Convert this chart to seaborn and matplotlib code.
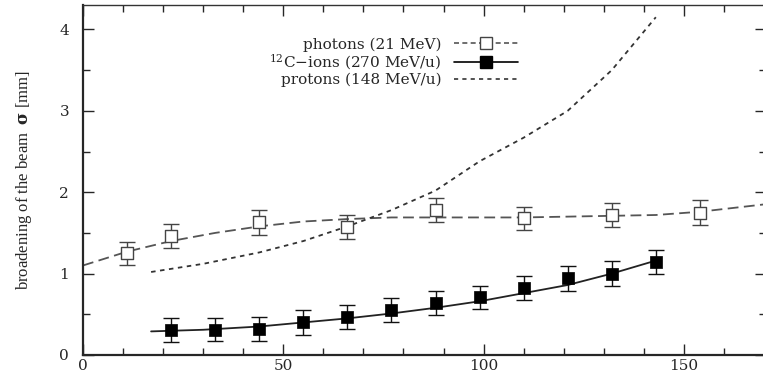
import numpy as np
import pandas as pd
import matplotlib
matplotlib.use("Agg")
import matplotlib.pyplot as plt
import seaborn as sns
from matplotlib.ticker import MultipleLocator
from matplotlib.lines import Line2D

# ---- data ----
photon_x = [11, 22, 44, 66, 88, 110, 132, 154]
photon_y = [1.25, 1.46, 1.63, 1.57, 1.78, 1.68, 1.72, 1.75]
photon_err = [0.14, 0.15, 0.15, 0.15, 0.15, 0.14, 0.15, 0.15]

photon_fit_x = [0, 11, 22, 33, 44, 55, 66, 77, 88, 99, 110, 121, 132, 143, 154, 170]
photon_fit_y = [1.10, 1.27, 1.40, 1.50, 1.58, 1.64, 1.67, 1.69, 1.69, 1.69, 1.69, 1.70, 1.71, 1.72, 1.76, 1.85]

carbon_x = [22, 33, 44, 55, 66, 77, 88, 99, 110, 121, 132, 143]
carbon_y = [0.31, 0.31, 0.32, 0.40, 0.47, 0.55, 0.64, 0.71, 0.82, 0.94, 1.00, 1.14]
carbon_err = [0.15, 0.14, 0.15, 0.15, 0.15, 0.15, 0.15, 0.14, 0.15, 0.15, 0.15, 0.15]

carbon_fit_x = [17, 30, 44, 55, 66, 77, 88, 99, 110, 121, 132, 143]
carbon_fit_y = [0.29, 0.31, 0.35, 0.40, 0.45, 0.51, 0.58, 0.66, 0.76, 0.86, 1.00, 1.16]

proton_x = [17, 30, 44, 55, 66, 77, 88, 99, 110, 121, 132, 143]
proton_y = [1.02, 1.12, 1.26, 1.40, 1.58, 1.78, 2.02, 2.38, 2.67, 3.00, 3.50, 4.15]

labels = ["photons (21 MeV)", "$^{12}$C\u2212ions (270 MeV/u)", "protons (148 MeV/u)"]
xticks = [0, 50, 100, 150]
yticks = [0, 1, 2, 3, 4]

# ---- plotting ----
sns.set_style("ticks")
plt.rcParams["font.family"] = ["DejaVu Serif"]
plt.rcParams["mathtext.fontset"] = "dejavuserif"

fig = plt.figure(figsize=(7.63, 3.78), dpi=100)
ax = fig.add_axes([83 / 763, 1 - 355 / 378, (766 - 83) / 763, (355 - 5) / 378])

pfit = pd.DataFrame({"x": photon_fit_x, "y": photon_fit_y})
cfit = pd.DataFrame({"x": carbon_fit_x, "y": carbon_fit_y})
prot = pd.DataFrame({"x": proton_x, "y": proton_y})

sns.lineplot(data=pfit, x="x", y="y", ax=ax, color="#555555", lw=1.3,
             estimator=None).lines[-1].set_dashes([6, 3])
sns.lineplot(data=cfit, x="x", y="y", ax=ax, color="#222222", lw=1.3, estimator=None)
sns.lineplot(data=prot, x="x", y="y", ax=ax, color="#333333", lw=1.3,
             estimator=None).lines[-1].set_dashes([2.5, 2.5])

ax.errorbar(photon_x, photon_y, yerr=photon_err, fmt="none", ecolor="#444444",
            elinewidth=1.0, capsize=6, capthick=1.0)
sns.scatterplot(x=photon_x, y=photon_y, ax=ax, marker="s", s=80,
                facecolor="white", edgecolor="#444444", linewidth=1.0, zorder=5)

ax.errorbar(carbon_x, carbon_y, yerr=carbon_err, fmt="none", ecolor="#111111",
            elinewidth=1.0, capsize=6, capthick=1.0)
sns.scatterplot(x=carbon_x, y=carbon_y, ax=ax, marker="s", s=80,
                color="black", edgecolor="black", linewidth=0.5, zorder=5)

ax.set_xlim(0, 170.5)
ax.set_ylim(0, 4.3)
ax.set_xticks(xticks)
ax.set_yticks(yticks)
ax.xaxis.set_minor_locator(MultipleLocator(10))
ax.yaxis.set_minor_locator(MultipleLocator(0.5))
ax.tick_params(which="both", direction="in", top=True, right=True, labelsize=11)
ax.tick_params(axis="x", pad=3)
ax.tick_params(axis="y", pad=10)
ax.tick_params(which="major", length=8, width=1.0)
ax.tick_params(which="minor", length=5, width=1.0)
for side in ["left", "bottom"]:
    ax.spines[side].set_linewidth(1.6)
for side in ["top", "right"]:
    ax.spines[side].set_linewidth(1.0)
    ax.spines[side].set_color("#333333")

ax.set_xlabel("")
ax.set_ylabel("broadening of the beam  $\\mathbf{\\sigma}$ [mm]",
              family="Liberation Serif", fontsize=12, labelpad=18)

handles = [
    Line2D([], [], color="#555555", lw=1.2, dashes=[3, 2], marker="s",
           markersize=8, markerfacecolor="white", markeredgecolor="#444444"),
    Line2D([], [], color="black", lw=1.2, marker="s", markersize=8,
           markerfacecolor="black"),
    Line2D([], [], color="#333333", lw=1.2, dashes=[2.5, 2.5]),
]
leg = ax.legend(handles, labels, loc="upper right", bbox_to_anchor=(0.648, 0.93),
                frameon=False, markerfirst=False, fontsize=11, handlelength=4.2,
                labelspacing=0.05, handletextpad=0.8, borderpad=0)
for t in leg.get_texts():
    t.set_ha("right")

fig.savefig("out.png", dpi=100)
